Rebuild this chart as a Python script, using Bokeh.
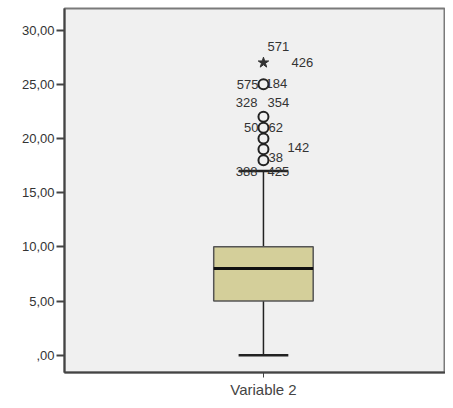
from bokeh.plotting import figure
from bokeh.models import Range1d, FixedTicker, ColumnDataSource
from bokeh.embed import file_html
from bokeh.resources import INLINE
from bokeh.core.properties import value

# ---- data ----
category = "Variable 2"
q1, median, q3 = 5.0, 8.0, 10.0
whisker_low, whisker_high = 0.0, 17.0
outliers_circle = [25, 22, 21, 20, 19, 18]
outliers_extreme = [27]
label_texts = ["571", "426", "575", "184", "328", "354", "50", "62", "142", "38", "388", "425"]
label_values = [27, 27, 25, 25, 22, 22, 21, 21, 19, 18, 17, 17]
y_ticks = [0, 5, 10, 15, 20, 25, 30]
y_tick_labels = [",00", "5,00", "10,00", "15,00", "20,00", "25,00", "30,00"]

# ---- layout / style (pixel offsets for case labels) ----
label_align = ["left", "left", "right", "left", "right", "left", "right", "left", "left", "left", "right", "left"]
label_dx = [4, 28, -5, 2, -6, 4, -5, 5, 24, 5, -6, 4]
label_dy = [-16, 0, 0, -1, -14, -14, 0, 0, -2, -3, 0, 0]

xc = 1.0
p = figure(width=445, height=400, output_backend="svg", toolbar_location=None,
           x_range=Range1d(0.0, 1.915), y_range=Range1d(-1.6, 32.0),
           min_border_left=64, min_border_right=0, min_border_top=8, min_border_bottom=24)
p.background_fill_color = "#f0f0f0"
p.border_fill_color = "white"
p.outline_line_color = "#7a7a7a"
p.outline_line_width = 2
p.grid.visible = False

# whiskers
p.segment(x0=[xc, xc], y0=[whisker_low, q3], x1=[xc, xc], y1=[q1, whisker_high],
          line_color="#222222", line_width=1.5)
p.segment(x0=[xc - 0.125, xc - 0.125], y0=[whisker_low, whisker_high],
          x1=[xc + 0.125, xc + 0.125], y1=[whisker_low, whisker_high],
          line_color="#222222", line_width=2.5)
# box
p.vbar(x=[xc], width=0.5, bottom=[q1], top=[q3], fill_color="#d4cf9a",
       line_color="#555555", line_width=1.5)
p.segment(x0=[xc - 0.25], y0=[median], x1=[xc + 0.25], y1=[median],
          line_color="#111111", line_width=3)
# outliers
p.scatter(x=[xc] * len(outliers_circle), y=outliers_circle, marker="circle", size=10,
          fill_color="#f0f0f0", line_color="#222222", line_width=2)
p.scatter(x=[xc] * len(outliers_extreme), y=outliers_extreme, marker="star", size=11,
          fill_color="#333333", line_color="#333333")

src = ColumnDataSource(dict(x=[xc] * len(label_texts), y=label_values, t=label_texts,
                            a=label_align, dx=label_dx, dy=label_dy))
p.text(x="x", y="y", text="t", source=src, text_align="a", x_offset="dx", y_offset="dy",
       text_baseline="middle", text_font=value("Liberation Sans"), text_font_size="13px",
       text_color="#333333")

# axes
p.yaxis.ticker = FixedTicker(ticks=y_ticks)
p.yaxis.major_label_overrides = {t: l for t, l in zip(y_ticks, y_tick_labels)}
p.yaxis.minor_tick_line_color = None
p.yaxis.major_tick_out = 8
p.yaxis.major_tick_in = 0
p.yaxis.major_tick_line_width = 2
p.yaxis.axis_line_width = 2
p.yaxis.axis_line_color = "#444444"
p.yaxis.major_tick_line_color = "#444444"
p.yaxis.major_label_text_font = "Liberation Sans"
p.yaxis.major_label_text_font_size = "13px"
p.yaxis.major_label_text_color = "#333333"
p.yaxis.major_label_standoff = 2

p.xaxis.ticker = FixedTicker(ticks=[xc])
p.xaxis.major_label_overrides = {xc: category}
p.xaxis.minor_tick_line_color = None
p.xaxis.major_tick_out = 5
p.xaxis.major_tick_in = 0
p.xaxis.axis_line_width = 2
p.xaxis.axis_line_color = "#444444"
p.xaxis.major_tick_line_color = "#444444"
p.xaxis.major_label_text_font = "Liberation Sans"
p.xaxis.major_label_text_font_size = "15px"
p.xaxis.major_label_text_color = "#444444"
p.xaxis.major_label_standoff = 3

open("out.html", "w").write(file_html(p, INLINE))
